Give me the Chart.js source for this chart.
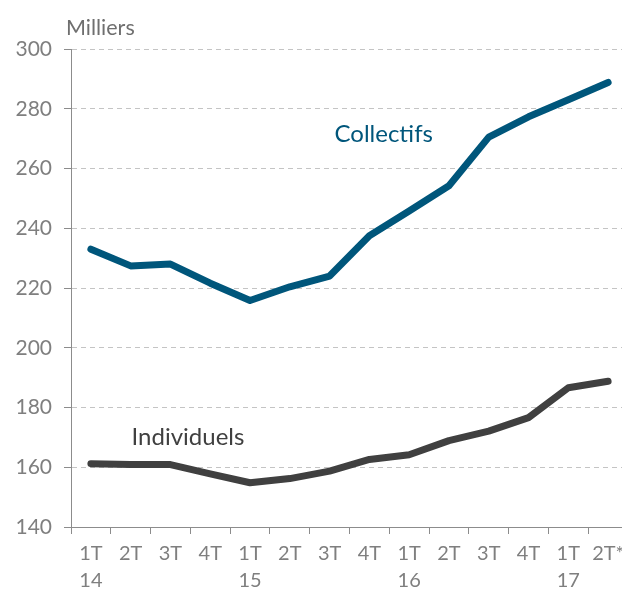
<!DOCTYPE html>
<html>
<head>
<meta charset="utf-8">
<script src="https://cdn.jsdelivr.net/npm/chart.js@4"></script>
<style>
  html, body { margin: 0; padding: 0; background: #fff; overflow: hidden; }
  #wrap { width: 640px; height: 595px; }
</style>
</head>
<body>
<div id="wrap"><canvas id="chart" width="640" height="595"></canvas></div>
<script>
const quarters = [['1T', '14'], '2T', '3T', '4T', ['1T', '15'], '2T', '3T', '4T', ['1T', '16'], '2T', '3T', '4T', ['1T', '17'], '2T*'];
const collectifs = [233.0, 227.4, 228.0, 221.6, 215.8, 220.4, 224.0, 237.5, 245.8, 254.2, 270.5, 277.3, 283.0, 288.8];
const individuels = [161.2, 160.9, 160.9, 157.8, 154.8, 156.2, 158.7, 162.6, 164.2, 168.9, 172.1, 176.6, 186.6, 188.8];
const yTicks = [140, 160, 180, 200, 220, 240, 260, 280, 300];

const BLUE = '#00567b';
const DARK = '#404040';
const FONT = 'Lato';

// series names written next to the lines, plus the unit above the axis
const labelsPlugin = {
    id: 'seriesLabels',
    afterDraw(chart) {
        const { ctx, scales: { x, y } } = chart;
        ctx.save();
        ctx.font = '24px ' + FONT;
        ctx.textAlign = 'center';
        ctx.textBaseline = 'middle';
        ctx.fillStyle = BLUE;
        ctx.fillText('Collectifs', x.getPixelForValue(7.36), y.getPixelForValue(271.5));
        ctx.fillStyle = DARK;
        ctx.fillText('Individuels', x.getPixelForValue(2.44), y.getPixelForValue(170.1));
        ctx.font = '21.5px ' + FONT;
        ctx.textAlign = 'left';
        ctx.fillStyle = '#6f6f6f';
        ctx.fillText('Milliers', 66, 28);
        ctx.restore();
    }
};

new Chart(document.getElementById('chart'), {
    type: 'line',
    data: {
        labels: quarters,
        datasets: [{
            label: 'Collectifs',
            data: collectifs,
            borderColor: BLUE,
            borderWidth: 7,
            borderCapStyle: 'round',
            borderJoinStyle: 'round',
            pointRadius: 0,
            tension: 0
        }, {
            label: 'Individuels',
            data: individuels,
            borderColor: DARK,
            borderWidth: 7,
            borderCapStyle: 'round',
            borderJoinStyle: 'round',
            pointRadius: 0,
            tension: 0
        }]
    },
    options: {
        responsive: false,
        animation: false,
        layout: { padding: { left: 0, top: 49, right: 12, bottom: 0 } },
        plugins: {
            legend: { display: false },
            tooltip: { enabled: false }
        },
        scales: {
            x: {
                offset: true,
                grid: {
                    offset: true,
                    drawOnChartArea: false,
                    drawTicks: true,
                    tickLength: 7,
                    tickColor: '#8c8c8c',
                    tickWidth: 1
                },
                border: { display: true, color: '#8c8c8c', width: 1 },
                ticks: {
                    color: '#7f7f7f',
                    font: { family: FONT, size: 20, lineHeight: 1.35 },
                    padding: 6,
                    maxRotation: 0,
                    autoSkip: false
                },
                afterFit(scale) { scale.height = 68; }
            },
            y: {
                min: 140,
                max: 300,
                afterBuildTicks(scale) { scale.ticks = yTicks.map(v => ({ value: v })); },
                grid: {
                    color: (c) => c.tick && c.tick.value === 140 ? 'rgba(0,0,0,0)' : '#c4c4c4',
                    lineWidth: 1,
                    tickLength: 7,
                    tickColor: '#8c8c8c'
                },
                border: { display: true, color: '#8c8c8c', width: 1, dash: [5, 4] },
                ticks: {
                    color: '#7f7f7f',
                    font: { family: FONT, size: 21 },
                    padding: 12
                },
                afterFit(scale) { scale.width = 71; }
            }
        }
    },
    plugins: [labelsPlugin]
});
</script>
</body>
</html>
